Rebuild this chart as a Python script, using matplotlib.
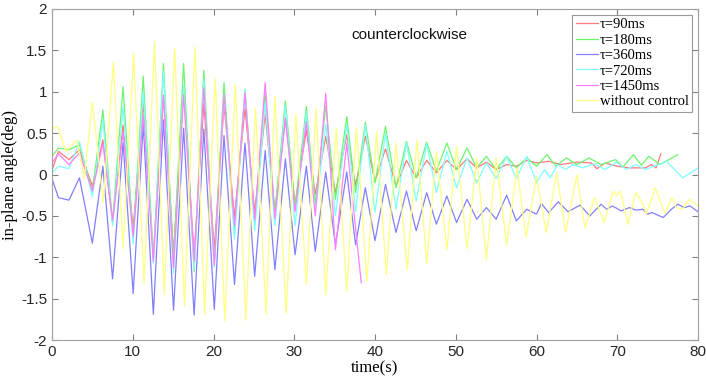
import numpy as np
import matplotlib.pyplot as plt

# extremum times shared by the controlled runs (s)
t_ctrl = [0, 0.8, 2.1, 3.4, 5.0, 6.3, 7.5, 8.8, 10.05, 11.3, 12.55, 13.8, 15.05, 16.3,
          17.6, 18.8, 20.1, 21.3, 22.6, 23.9, 25.1, 26.4, 27.6, 28.9, 30.1, 31.5, 32.6,
          33.9, 35.1, 36.5, 37.6, 38.8, 40.0, 41.3, 42.6, 43.9, 45.1, 46.4, 47.6, 48.9,
          50.1, 51.4, 52.6, 53.8, 55.0, 56.3, 57.5, 58.8, 60.0]

red_v = [0.05, 0.28, 0.18, 0.30, -0.14, 0.42, -0.58, 0.60, -0.65, 0.87, -0.98, 0.96, -0.94,
         1.05, -0.98, 0.86, -0.90, 0.84, -0.51, 0.80, -0.45, 0.73, -0.46, 0.68, -0.36, 0.54,
         -0.24, 0.46, -0.22, 0.48, -0.13, 0.46, -0.08, 0.31, -0.14, 0.17, -0.04, 0.17, 0.02,
         0.17, 0.06, 0.19, 0.08, 0.15, 0.06, 0.12, 0.10, 0.17, 0.14]
red_tail_t = [61.5, 63.0, 65.0, 66.8, 67.5, 68.5, 70.0, 71.5, 73.5, 74.2, 74.8, 75.4]
red_tail_v = [0.16, 0.12, 0.15, 0.14, 0.07, 0.14, 0.10, 0.08, 0.08, 0.12, 0.08, 0.25]

green_v = [0.22, 0.32, 0.30, 0.36, -0.20, 0.78, -0.58, 1.06, -0.78, 1.19, -1.03, 1.34, -1.02,
           1.34, -1.17, 1.26, -1.07, 1.11, -0.70, 1.03, -0.58, 0.99, -0.46, 0.89, -0.40, 0.82,
           -0.36, 0.83, -0.30, 0.70, -0.22, 0.63, -0.10, 0.58, -0.16, 0.40, -0.04, 0.39, 0.04,
           0.38, 0.06, 0.32, 0.08, 0.22, 0.06, 0.22, 0.08, 0.20, 0.10]
green_tail_t = [61.3, 62.4, 63.7, 65.0, 66.5, 68.0, 69.8, 70.7, 72.0, 73.0, 73.9, 75.3, 77.5]
green_tail_v = [0.24, 0.10, 0.20, 0.12, 0.20, 0.12, 0.18, 0.09, 0.24, 0.11, 0.22, 0.12, 0.24]

blue_v = [-0.05, -0.28, -0.31, -0.04, -0.83, 0.10, -1.26, 0.39, -1.44, 0.61, -1.69, 0.66, -1.64,
          0.56, -1.70, 0.55, -1.63, 0.47, -1.33, 0.38, -1.23, 0.29, -1.15, 0.19, -0.97, 0.10,
          -0.93, 0.03, -0.85, 0.03, -0.85, -0.16, -0.80, -0.12, -0.70, -0.20, -0.68, -0.22,
          -0.60, -0.26, -0.58, -0.30, -0.54, -0.40, -0.54, -0.25, -0.56, -0.42, -0.48]
blue_tail_t = [60.6, 61.5, 62.7, 63.9, 65.4, 66.6, 68.0, 68.7, 69.4, 70.5, 71.5, 72.3, 73.2,
               73.7, 74.3, 75.7, 76.7, 77.5, 78.3, 79.0, 80.0]
blue_tail_v = [-0.35, -0.46, -0.33, -0.45, -0.37, -0.50, -0.36, -0.42, -0.38, -0.44, -0.40,
               -0.43, -0.42, -0.48, -0.46, -0.52, -0.42, -0.36, -0.40, -0.38, -0.45]

cyan_v = [0.02, 0.10, 0.07, 0.40, -0.27, 0.66, -0.62, 0.82, -0.84, 1.00, -1.07, 1.25, -1.19,
          1.08, -1.15, 1.15, -1.12, 0.97, -0.78, 1.03, -0.68, 0.87, -0.62, 0.83, -0.62, 0.76,
          -0.46, 0.61, -0.50, 0.61, -0.45, 0.60, -0.46, 0.50, -0.42, 0.38, -0.32, 0.37, -0.22,
          0.28, -0.16, 0.20, -0.10, 0.14, -0.05, 0.22, -0.05, 0.22, -0.10]
cyan_tail_t = [61.0, 61.7, 62.6, 63.6, 64.5, 65.7, 67.2, 68.5, 69.9, 71.1, 72.3, 73.5, 76.1,
               78.1, 80.0]
cyan_tail_v = [0.06, -0.04, 0.12, 0.06, 0.12, 0.08, 0.13, 0.06, 0.15, 0.06, 0.12, 0.06, 0.16,
               -0.04, 0.08]

magenta_v = [0.14, 0.25, 0.12, 0.26, -0.20, 0.38, -0.55, 0.51, -0.75, 0.72, -1.05, 0.95, -1.13,
             0.96, -1.05, 1.05, -1.10, 0.97, -0.62, 0.99, -0.55, 1.11, -0.53, 0.68, -0.45, 0.64,
             -0.50, 0.98, -0.91, 0.38]
magenta_end_t = [38.3]
magenta_end_v = [-1.31]

yellow_t = [0.0, 0.7, 1.7, 3.1, 4.0, 5.0, 6.35, 7.6, 8.8, 10.1, 11.4, 12.7, 13.9, 15.2, 16.4,
            17.7, 18.9, 20.2, 21.4, 22.7, 24.0, 25.2, 26.5, 27.6, 29.0, 30.2, 31.5, 32.7, 33.9,
            35.2, 36.5, 37.7, 39.0, 40.2, 41.4, 42.6, 44.0, 45.2, 46.4, 47.6, 48.9, 50.1, 51.4,
            52.6, 53.8, 55.0, 56.3, 57.6, 58.7, 60.0, 61.2, 62.5, 63.6, 65.0, 66.0, 67.2, 68.4,
            69.5, 69.9, 70.4, 71.3, 72.3, 73.1, 73.6, 74.7, 75.9, 76.8, 77.3, 78.1, 78.9, 80.0]
yellow_v = [0.55, 0.58, 0.28, 0.42, -0.05, 0.88, -0.34, 1.36, -0.90, 1.46, -1.31, 1.60, -1.45,
            1.52, -1.59, 1.54, -1.69, 1.17, -1.77, 1.09, -1.76, 0.80, -1.69, 0.95, -1.68, 0.72,
            -1.33, 0.80, -1.46, 0.56, -1.41, 0.57, -1.29, 0.52, -1.21, 0.38, -1.15, 0.42, -1.08,
            0.28, -0.91, 0.34, -0.90, 0.20, -1.03, 0.20, -0.85, 0.08, -0.76, -0.02, -0.70, 0.02,
            -0.70, 0.00, -0.65, -0.28, -0.58, -0.20, -0.26, -0.20, -0.60, -0.22, -0.34, -0.48,
            -0.16, -0.47, -0.28, -0.40, -0.42, -0.30, -0.38]

labels = ['τ=90ms', 'τ=180ms', 'τ=360ms', 'τ=720ms', 'τ=1450ms', 'without control']
colors = ['#ff7a7a', '#6cf56c', '#8080ff', '#80ffff', '#ff80ff', '#ffff80']

series = [
    (t_ctrl + red_tail_t, red_v + red_tail_v),
    (t_ctrl + green_tail_t, green_v + green_tail_v),
    (t_ctrl + blue_tail_t, blue_v + blue_tail_v),
    (t_ctrl + cyan_tail_t, cyan_v + cyan_tail_v),
    (t_ctrl[:len(magenta_v)] + magenta_end_t, magenta_v + magenta_end_v),
    (yellow_t, yellow_v),
]

fig = plt.figure(figsize=(7.06, 3.83), dpi=100)
ax = fig.add_axes([52 / 706, 43 / 383, 646 / 706, 331 / 383])

for (t, v), c, lab in zip(series, colors, labels):
    ax.plot(t, v, color=c, lw=0.9, label=lab)

ax.set_xlim(0, 80)
ax.set_ylim(-2, 2)
ax.set_xticks(np.arange(0, 81, 10))
ax.set_yticks(np.arange(-2, 2.01, 0.5))
ax.set_yticklabels(['-2', '-1.5', '-1', '-0.5', '0', '0.5', '1', '1.5', '2'])
ax.tick_params(direction='in', top=True, right=True, length=4, width=0.8,
               color='#808080', labelsize=11, labelcolor='#262626')
for s in ax.spines.values():
    s.set_color('#a0a0a0')
    s.set_linewidth(0.8)
for lbl in ax.get_xticklabels() + ax.get_yticklabels():
    lbl.set_fontfamily('Liberation Sans')

ax.set_xlabel('time(s)', family='Liberation Serif', fontsize=12, labelpad=1)
ax.set_ylabel('in-plane angle(deg)', family='Liberation Serif', fontsize=12, labelpad=2)
ax.text(37.1, 1.69, 'counterclockwise', family='Liberation Sans', fontsize=11,
        va='center', ha='left', color='#111111')

leg = ax.legend(loc='upper right', prop={'family': 'Liberation Serif', 'size': 10.5},
                handlelength=1.5, handletextpad=0.15, borderpad=0.25, labelspacing=0.15,
                frameon=True, fancybox=False, borderaxespad=0.38)
leg.get_frame().set_edgecolor('#808080')
leg.get_frame().set_linewidth(0.8)

fig.savefig('out.png', dpi=100)
